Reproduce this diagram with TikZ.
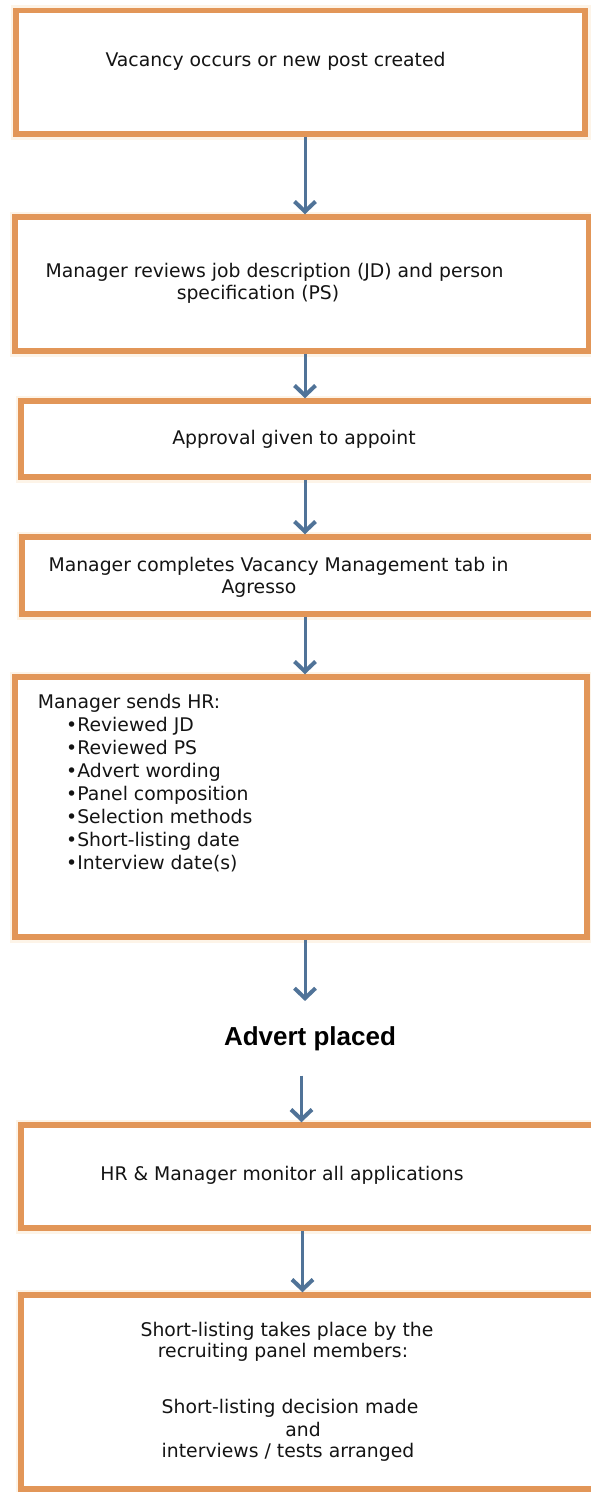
\documentclass[tikz,border=0pt]{standalone}
\usepackage{fontspec}
\setmainfont{DejaVu Sans}
\newfontfamily\advfont{Liberation Sans}
\usetikzlibrary{arrows.meta}
\definecolor{boxorange}{RGB}{226,150,88}
\definecolor{arrowblue}{RGB}{80,115,152}
\definecolor{glowc}{RGB}{253,244,232}
\definecolor{txt}{RGB}{20,20,20}
\begin{document}
\begin{tikzpicture}[x=1pt,y=-1pt,
  box/.style={draw=boxorange, line width=5.5pt, fill=white, rectangle, inner sep=0pt,
              preaction={draw=glowc, line width=11pt}},
  arr/.style={draw=arrowblue, line width=3pt,
              -{Straight Barb[length=10pt,width=21pt,line width=4pt]}},
  lbl/.style={anchor=base, inner sep=0pt, text=txt, font=\fontsize{18.8}{23}\selectfont},
  lbll/.style={lbl, anchor=base west},
  advstyle/.style={anchor=base, inner xsep=0pt, inner ysep=25pt, text=black,
              font=\advfont\bfseries\fontsize{26}{30}\selectfont}]
\fill[white] (0,0) rectangle (591,1492);
\useasboundingbox (0,0) rectangle (591,1492);

% boxes
\node[box, minimum width=569pt, minimum height=123.3pt] (b1) at (300.5,72.35) {};
\node[box, minimum width=574pt, minimum height=134pt] (b2) at (302,284) {};
\node[box, minimum width=573pt, minimum height=76pt] (b3) at (307.5,439) {};
\node[box, minimum width=572pt, minimum height=77pt] (b4) at (308,575.5) {};
\node[box, minimum width=572pt, minimum height=260pt] (b5) at (301,807) {};
\node[box, minimum width=573pt, minimum height=103pt] (b6) at (307.5,1176.5) {};
\node[box, minimum width=573pt, minimum height=194pt] (b7) at (307.5,1392) {};

% texts
\node[lbl] (t1) at (275.5,66) {Vacancy occurs or new post created};
\node[lbl] (t2a) at (274.5,277) {Manager reviews job description (JD) and person};
\node[lbl] (t2b) at (258,299) {specification (PS)};
\node[lbl] (t3) at (294,444) {Approval given to appoint};
\node[lbl] (t4a) at (278.5,571) {Manager completes Vacancy Management tab in};
\node[lbl] (t4b) at (259,593) {Agresso};
\node[lbll] (t5) at (37.7,708) {Manager sends HR:};
\foreach \itm [count=\i] in {Reviewed JD, Reviewed PS, Advert wording, Panel composition,
    Selection methods, Short-listing date, Interview date(s)}
  \node[lbll] (t5b\i) at (66,708+23*\i) {•\itm};
\node[advstyle] (adv) at (310,1045) {Advert placed};
\node[lbl] (t6) at (282,1180) {HR \& Manager monitor all applications};
\node[lbl] (t7a) at (287,1336) {Short-listing takes place by the};
\node[lbl] (t7b) at (283,1357) {recruiting panel members:};
\node[lbl] (t7c) at (290,1413) {Short-listing decision made};
\node[lbl] (t7d) at (303,1436) {and};
\node[lbl] (t7e) at (288,1457) {interviews / tests arranged};

% connectors
\draw[arr] ([xshift=4.5pt]b1.south) -- ([xshift=3pt]b2.north);
\draw[arr] ([xshift=3pt]b2.south) -- ([xshift=-2.5pt]b3.north);
\draw[arr] ([xshift=-2.5pt]b3.south) -- ([xshift=-3pt]b4.north);
\draw[arr] ([xshift=-3pt]b4.south) -- ([xshift=4pt]b5.north);
\draw[arr] ([xshift=4pt]b5.south) -- ([xshift=-5pt]adv.north);
\draw[arr] ([xshift=-8.5pt]adv.south) -- ([xshift=-6pt]b6.north);
\draw[arr] ([xshift=-5pt]b6.south) -- ([xshift=-5pt]b7.north);
\end{tikzpicture}
\end{document}
